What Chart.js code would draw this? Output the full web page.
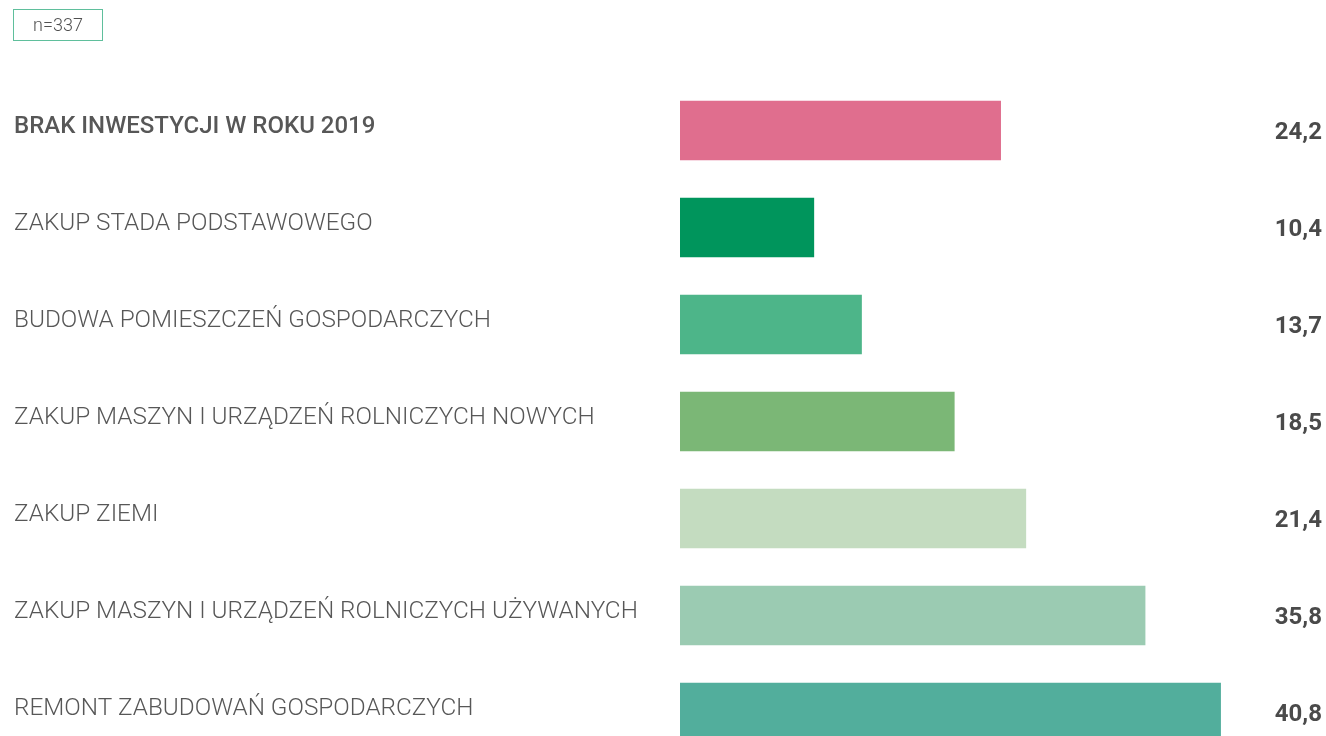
<!DOCTYPE html>
<html lang="pl">
<head>
<meta charset="utf-8">
<title>Inwestycje w gospodarstwie</title>
<script src="https://cdn.jsdelivr.net/npm/chart.js@4/dist/chart.umd.min.js"></script>
<style>
    html, body { margin: 0; padding: 0; background: #fff; }
    #wrap { position: relative; width: 1326px; height: 736px; overflow: hidden; }
    #chart { position: absolute; left: 0; top: 0; }
    .sample {
        position: absolute; left: 13px; top: 9px; width: 88px; height: 30px;
        border: 1px solid #5fbf9c; box-sizing: content-box;
        font: 300 18px Roboto, sans-serif; color: #505050;
        text-align: center; line-height: 30px;
    }
</style>
</head>
<body>
<div id="wrap">
    <canvas id="chart"></canvas>
    <div class="sample">n=337</div>
</div>
<script>
/** ── Données ─────────────────────────────────────────────────────── */
const categories = [
    'BRAK INWESTYCJI W ROKU 2019',
    'ZAKUP STADA PODSTAWOWEGO',
    'BUDOWA POMIESZCZEŃ GOSPODARCZYCH',
    'ZAKUP MASZYN I URZĄDZEŃ ROLNICZYCH NOWYCH',
    'ZAKUP ZIEMI',
    'ZAKUP MASZYN I URZĄDZEŃ ROLNICZYCH UŻYWANYCH',
    'REMONT ZABUDOWAŃ GOSPODARCZYCH',
];

// valeurs imprimées à droite (%)
const values = [24.2, 10.4, 13.7, 18.5, 21.4, 35.8, 40.8];

// longueurs des barres telles que dessinées dans l'original (%)
const barLengths = [24.2, 10.1, 13.7, 20.7, 26.1, 35.1, 40.8];

const barColors = ['#e06e8e', '#00955c', '#4db589', '#7bb776', '#c4dcc0', '#9bcbb2', '#52ae9c'];

const boldRows = [true, false, false, false, false, false, false];

/** ── Étiquettes dessinées à la main ──────────────────────────────── */
const labelsPlugin = {
    id: 'rowLabels',
    afterDatasetsDraw(chart) {
        const { ctx } = chart;
        const y = chart.scales.y;
        ctx.save();
        categories.forEach((label, i) => {
            const cy = y.getPixelForValue(i);
            ctx.textBaseline = 'middle';
            ctx.textAlign = 'left';
            ctx.fillStyle = '#575757';
            ctx.font = boldRows[i] ? '500 24px Roboto, sans-serif' : '300 24.3px Roboto, sans-serif';
            ctx.fillText(label, 14, cy - 4);

            ctx.textAlign = 'right';
            ctx.fillStyle = '#4a4a4a';
            ctx.font = 'bold 24px Roboto, sans-serif';
            ctx.fillText(values[i].toFixed(1).replace('.', ','), 1322, cy + 2);
        });
        ctx.restore();
    },
};

/** ── Graphique ───────────────────────────────────────────────────── */
const canvas = document.getElementById('chart');
canvas.width = 1326;
canvas.height = 780;

new Chart(canvas.getContext('2d'), {
    type: 'bar',
    data: {
        labels: categories,
        datasets: [{
            data: barLengths,
            backgroundColor: barColors,
            borderWidth: 0,
            barThickness: 59,
        }],
    },
    options: {
        indexAxis: 'y',
        responsive: false,
        animation: false,
        layout: { padding: { left: 680, right: 10, top: 82, bottom: 19 } },
        scales: {
            x: { display: false, min: 0, max: 48 },
            y: { display: false },
        },
        plugins: {
            legend: { display: false },
            tooltip: { enabled: false },
        },
    },
    plugins: [labelsPlugin],
});
</script>
</body>
</html>
